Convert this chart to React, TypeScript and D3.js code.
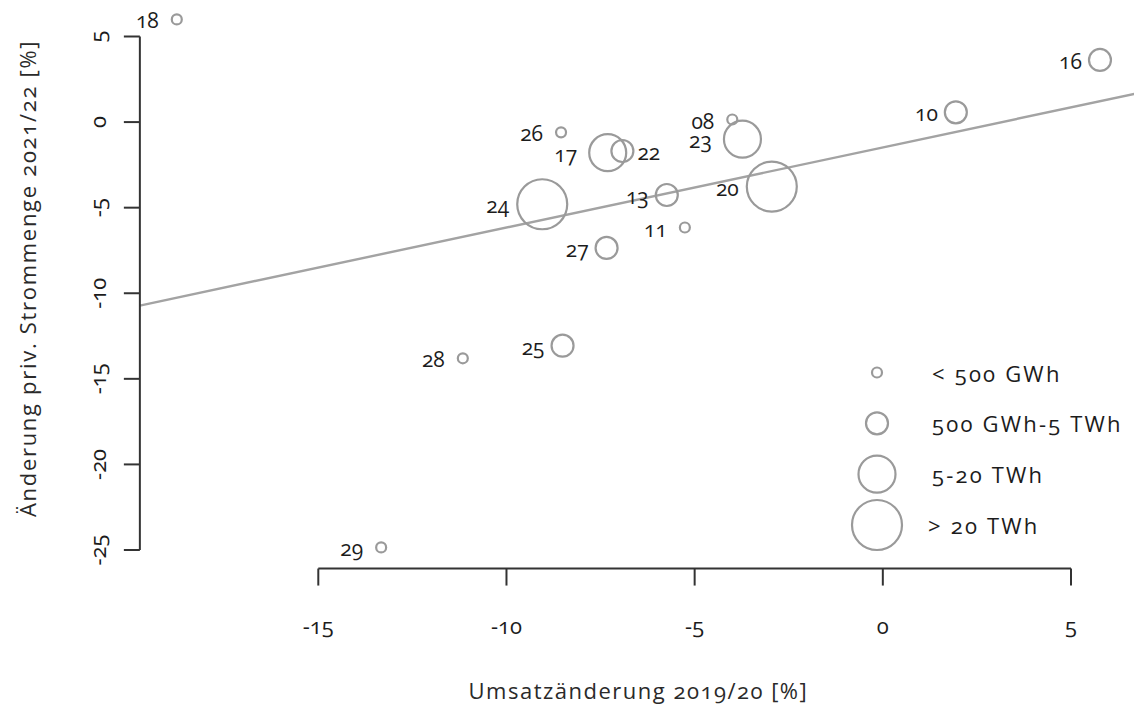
import * as React from "react";
import * as d3 from "d3";

// Bundesland / Netzgebiet codes with revenue change 2019/20 and household power change 2021/22
const ids = ["08", "10", "11", "13", "16", "17", "18", "20", "22", "23", "24", "25", "26", "27", "28", "29"];
const umsatz = [-4.0, 1.94, -5.26, -5.74, 5.77, -7.31, -18.76, -2.95, -6.92, -3.73, -9.05, -8.51, -8.55, -7.34, -11.16, -13.33];
const strom = [0.15, 0.57, -6.16, -4.26, 3.63, -1.79, 6.0, -3.77, -1.69, -1.0, -4.8, -13.06, -0.6, -7.35, -13.8, -24.85];
// 0: < 500 GWh, 1: 500 GWh-5 TWh, 2: 5-20 TWh, 3: > 20 TWh
const sizeClass = [0, 1, 0, 1, 1, 2, 0, 3, 1, 2, 3, 1, 0, 1, 0, 0];
const labelsRight = ["22"];

const sizeLabels = ["< 500 GWh", "500 GWh-5 TWh", "5-20 TWh", "> 20 TWh"];
const sizeRadii = [5, 11, 18.5, 25];
const labelGap = [13, 7, 12, 8];

const xTicks = [-15, -10, -5, 0, 5];
const yTicks = [5, 0, -5, -10, -15, -20, -25];

const W = 1134;
const H = 706;
const FONT = "'Open Sans', 'DejaVu Sans', sans-serif";
const GREY = "#9a9a9a";
const INK = "#1c1c1c";
const onum = { fontVariantNumeric: "oldstyle-nums" as const };

export default function App() {
  const x = d3.scaleLinear().domain([-15, 5]).range([318.3, 1071]);
  const y = d3.scaleLinear().domain([-25, 5]).range([550, 36.5]);

  // R style plot region: data range padded by 4 %
  const [x0, x1] = d3.extent(umsatz) as [number, number];
  const [y0, y1] = d3.extent(strom) as [number, number];
  const px = (x1 - x0) * 0.04;
  const py = (y1 - y0) * 0.04;
  const left = x(x0 - px);
  const right = x(x1 + px);
  const bottom = y(y0 - py);
  const top = y(y1 + py);

  // least squares fit
  const mx = d3.mean(umsatz)!;
  const my = d3.mean(strom)!;
  const sxy = d3.sum(umsatz, (v, i) => (v - mx) * (strom[i] - my));
  const sxx = d3.sum(umsatz, (v) => (v - mx) ** 2);
  const slope = sxy / sxx;
  const icpt = my - slope * mx;
  const fx = [x0 - px, x1 + px];
  const line = d3.line<number>().x((d) => x(d)).y((d) => y(icpt + slope * d));

  const pts = ids.map((id, i) => ({
    id,
    cx: x(umsatz[i]),
    cy: y(strom[i]),
    r: sizeRadii[sizeClass[i]],
    gap: labelGap[sizeClass[i]],
    right: labelsRight.includes(id),
  }));

  const legX = 877;
  const legY = d3.scaleLinear().domain([0, 3]).range([372.5, 525]);

  return (
    <div style={{ position: "fixed", left: 0, top: 0 }}>
      <svg
        width={W}
        height={H}
        style={{ display: "block", background: "#fff", fontFamily: FONT, fontWeight: 500 }}
      >
        <defs>
          <clipPath id="plot">
            <rect x={left} y={top} width={right - left} height={bottom - top} />
          </clipPath>
        </defs>

        {/* regression line */}
        <path d={line(fx) ?? ""} fill="none" stroke="#a3a3a3" strokeWidth={2.4} clipPath="url(#plot)" />

        {/* bubbles */}
        {pts.map((p) => (
          <circle key={p.id} cx={p.cx} cy={p.cy} r={p.r} fill="none" stroke={GREY} strokeWidth={2.2} />
        ))}
        {pts.map((p) => (
          <text
            key={`l-${p.id}`}
            x={p.right ? p.cx + p.r + 4 : p.cx - p.r - p.gap}
            y={p.cy + 1}
            dominantBaseline="central"
            textAnchor={p.right ? "start" : "end"}
            fontSize={21}
            fill={INK}
            style={onum}
          >
            {p.id}
          </text>
        ))}

        {/* axes */}
        <g stroke="#333" strokeWidth={2} fill="none">
          <line x1={left} x2={left} y1={y(yTicks[0])} y2={y(yTicks[yTicks.length - 1])} />
          {yTicks.map((t) => (
            <line key={t} x1={left - 16} x2={left} y1={y(t)} y2={y(t)} />
          ))}
          <line x1={x(xTicks[0])} x2={x(xTicks[xTicks.length - 1])} y1={bottom} y2={bottom} />
          {xTicks.map((t) => (
            <line key={t} x1={x(t)} x2={x(t)} y1={bottom} y2={bottom + 17} />
          ))}
        </g>
        {yTicks.map((t) => (
          <text
            key={`yt-${t}`}
            transform={`translate(97,${y(t)}) rotate(-90)`}
            textAnchor="middle"
            dominantBaseline="central"
            fontSize={22}
            fill={INK}
            style={onum}
          >
            {t < 0 ? `-${-t}` : t}
          </text>
        ))}
        {xTicks.map((t) => (
          <text
            key={`xt-${t}`}
            x={x(t)}
            y={625}
            textAnchor="middle"
            dominantBaseline="central"
            fontSize={22}
            fill={INK}
            style={onum}
          >
            {t < 0 ? `-${-t}` : t}
          </text>
        ))}

        {/* axis titles */}
        <text
          x={(left + right) / 2}
          y={690}
          textAnchor="middle"
          dominantBaseline="central"
          fontSize={22}
          letterSpacing={1.5}
          fill="#2a2a2a"
          style={onum}
        >
          Umsatzänderung 2019/20 [%]
        </text>
        <text
          transform={`translate(27,${(top + bottom) / 2 - 5}) rotate(-90)`}
          textAnchor="middle"
          dominantBaseline="central"
          fontSize={22}
          letterSpacing={1.7}
          fill="#2a2a2a"
          style={onum}
        >
          Änderung priv. Strommenge 2021/22 [%]
        </text>

        {/* legend */}
        {sizeLabels.map((lab, i) => (
          <g key={lab}>
            <circle cx={legX} cy={legY(i)} r={sizeRadii[i]} fill="none" stroke={GREY} strokeWidth={2.2} />
            <text
              x={i === 3 ? 928 : 932}
              y={legY(i)}
              dominantBaseline="central"
              fontSize={22}
              letterSpacing={2.2}
              fill={INK}
              style={onum}
            >
              {lab}
            </text>
          </g>
        ))}
      </svg>
    </div>
  );
}
